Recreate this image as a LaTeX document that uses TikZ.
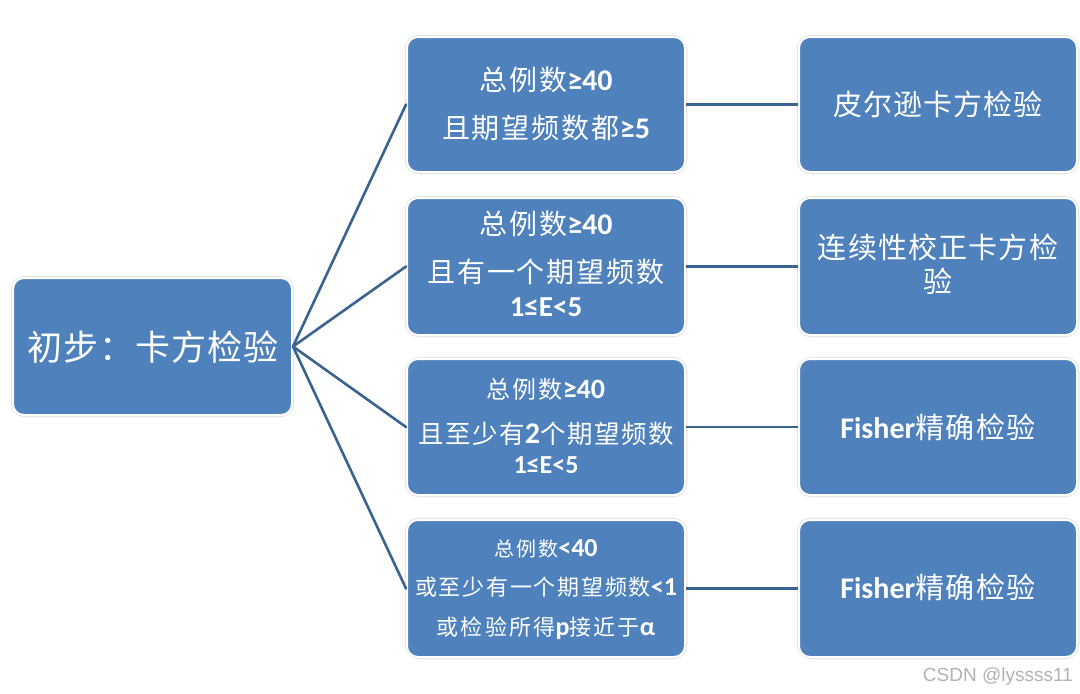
\documentclass[tikz,border=0pt]{standalone}
\usepackage{fontspec}
\setmainfont{Carlito}
\newfontfamily\cjk{Noto Sans CJK SC}
\newfontfamily\ltn{Carlito}
\newfontfamily\wm{Liberation Sans}
\newcommand\bl[2]{{\ltn\bfseries\fontsize{#1}{#1}\selectfont #2}}
\newcommand\cjf[2]{\cjk\fontsize{#1}{#1}\selectfont\addfontfeature{LetterSpace=#2}}
\definecolor{boxblue}{HTML}{4F81BD}
\definecolor{linkblue}{HTML}{3B6392}
\begin{document}
\begin{tikzpicture}[x=1pt,y=-1pt,
  box/.style={draw=white,line width=2pt,fill=boxblue,rounded corners=11pt,minimum width=278pt,inner sep=0pt},
  glow/.style={draw=black!10,line width=4.5pt,rounded corners=12pt,minimum width=278pt,inner sep=0pt},
  txt/.style={text=white,inner sep=0pt},
  link/.style={draw=linkblue,line width=2.6pt}]
\useasboundingbox (0,0) rectangle (1080,694);
\fill[white] (0,0) rectangle (1080,694);
% glows
\node[glow,minimum width=279pt,minimum height=137pt] at (152.5,346.5) {};
\foreach \y/\h in {104.5/135,266.5/137,427/136,588.5/137}{
  \node[glow,minimum height=\h pt] at (546,\y) {};
  \node[glow,minimum height=\h pt] at (938,\y) {};
}
% boxes
\node[box,minimum width=279pt,minimum height=137pt] (root) at (152.5,346.5) {};
\node[box,minimum height=135pt] (m1) at (546,104.5) {};
\node[box,minimum height=137pt] (m2) at (546,266.5) {};
\node[box,minimum height=136pt] (m3) at (546,427) {};
\node[box,minimum height=137pt] (m4) at (546,588.5) {};
\node[box,minimum height=135pt] (r1) at (938,104.5) {};
\node[box,minimum height=137pt] (r2) at (938,266.5) {};
\node[box,minimum height=136pt] (r3) at (938,427) {};
\node[box,minimum height=137pt] (r4) at (938,588.5) {};
% links
\draw[link,line cap=round] (root.east) -- (m1.west);
\draw[link,line cap=round] (root.east) -- (m2.west);
\draw[link,line cap=round] (root.east) -- (m3.west);
\draw[link,line cap=round] (root.east) -- (m4.west);
\draw[link] (m1.east) -- (r1.west);
\draw[link] (m2.east) -- (r2.west);
\draw[link] (m3.east) -- (r3.west);
\draw[link] (m4.east) -- (r4.west);
% texts
\node[txt,font=\cjf{35}{3}] (t0) at (153,347) {初步：卡方检验};
\node[txt,font=\cjf{28}{7}] (t1a) at (546,80) {总例数\bl{30}{≥40}};
\node[txt,font=\cjf{28}{7}] (t1b) at (546,128) {且期望频数都\bl{30}{≥5}};
\node[txt,font=\cjf{28}{7}] (t2a) at (546,224) {总例数\bl{30}{≥40}};
\node[txt,font=\cjf{28}{7}] (t2b) at (546,272) {且有一个期望频数};
\node[txt,font=\cjf{28}{7}] (t2c) at (546,307) {\bl{29}{1≤E<5}};
\node[txt,font=\cjf{24}{8}] (t3a) at (546,389) {总例数\bl{28}{≥40}};
\node[txt,font=\cjf{25.5}{6}] (t3b) at (546,434) {且至少有\bl{30}{2}个期望频数};
\node[txt,font=\cjf{24}{8}] (t3c) at (546,465) {\bl{26}{1≤E<5}};
\node[txt,font=\cjf{20}{10}] (t4a) at (546,549) {总例数\bl{26}{<40}};
\node[txt,font=\cjf{22}{8}] (t4b) at (546,587) {或至少有一个期望频数\bl{26}{<1}};
\node[txt,font=\cjf{22}{10}] (t4c) at (546,628) {或检验所得\bl{26}{p}接近于\bl{26}{α}};
\node[txt,font=\cjf{29}{4}] (u1) at (938,104) {皮尔逊卡方检验};
\node[txt,font=\cjf{29}{4}] (u2a) at (938,247) {连续性校正卡方检};
\node[txt,font=\cjf{29}{4}] (u2b) at (938,281) {验};
\node[txt,font=\cjf{29}{5}] (u3) at (938,427) {\bl{30}{Fisher}精确检验};
\node[txt,font=\cjf{29}{5}] (u4) at (938,587) {\bl{30}{Fisher}精确检验};
\node[text=black!30,inner sep=0pt,font=\wm\fontsize{19}{22}\selectfont,anchor=east] (wmk) at (1073,677) {CSDN @lyssss11};
\end{tikzpicture}
\end{document}
